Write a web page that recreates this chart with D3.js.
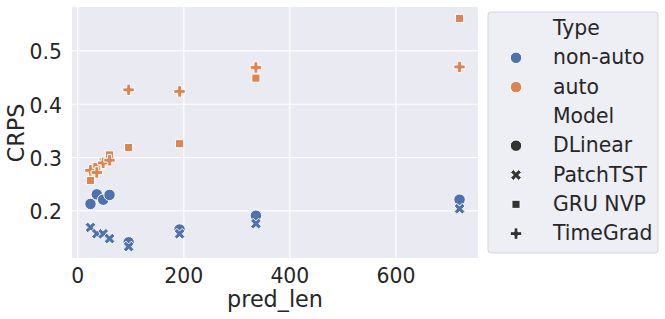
<!DOCTYPE html>
<html>
<head>
<meta charset="utf-8">
<script src="https://cdn.jsdelivr.net/npm/d3@7"></script>
<style>
  body { margin: 0; background: #fff; }
  text { font-family: 'DejaVu Sans', sans-serif; fill: #262626; }
</style>
</head>
<body>
<div id="chart"></div>
<script>
// data
const predLen = [24, 36, 48, 60, 96, 192, 336, 720]
const dlinear = [0.213, 0.231, 0.221, 0.230, 0.141, 0.165, 0.191, 0.221]
const patchtst = [0.169, 0.157, 0.157, 0.148, 0.133, 0.157, 0.176, 0.204]
const gruNvp = [0.257, 0.283, 0.292, 0.305, 0.319, 0.326, 0.449, 0.561]
const timeGrad = [0.276, 0.272, 0.290, 0.295, 0.427, 0.424, 0.469, 0.470]
const types = ['non-auto', 'auto']
const models = ['DLinear', 'PatchTST', 'GRU NVP', 'TimeGrad']
const modelType = ['non-auto', 'non-auto', 'auto', 'auto']
const xTicks = [0, 200, 400, 600]
const yTicks = [0.2, 0.3, 0.4, 0.5]

const series = [dlinear, patchtst, gruNvp, timeGrad]
const rows = []
series.forEach((vals, i) => {
  vals.forEach((v, j) => rows.push({ model: models[i], type: modelType[i], x: predLen[j], y: v }))
})

const W = 665, H = 319
const margin = { top: 7, left: 72, right: 187, bottom: 61 }
const width = W - margin.left - margin.right
const height = H - margin.top - margin.bottom

const svg = d3.select('#chart').append('svg')
  .attr('width', W).attr('height', H)

const g = svg.append('g')
  .attr('transform', 'translate(' + margin.left + ',' + margin.top + ')')

// seaborn-like 5% padding
const xExt = d3.extent(rows, d => d.x)
const yExt = d3.extent(rows, d => d.y)
const xPad = (xExt[1] - xExt[0]) * 0.05
const yPad = (yExt[1] - yExt[0]) * 0.05
const x = d3.scaleLinear().domain([xExt[0] - xPad, xExt[1] + xPad]).range([0, width])
const y = d3.scaleLinear().domain([yExt[0] - yPad, yExt[1] + yPad]).range([height, 0])

const color = d3.scaleOrdinal().domain(types).range(['#4c72b0', '#dd8452'])

g.append('rect').attr('width', width).attr('height', height).attr('fill', '#eaeaf2')

g.selectAll('.gx').data(xTicks).enter().append('line')
  .attr('x1', d => x(d)).attr('x2', d => x(d))
  .attr('y1', 0).attr('y2', height)
  .attr('stroke', '#fff').attr('stroke-width', 1.2)
g.selectAll('.gy').data(yTicks).enter().append('line')
  .attr('y1', d => y(d)).attr('y2', d => y(d))
  .attr('x1', 0).attr('x2', width)
  .attr('stroke', '#fff').attr('stroke-width', 1.2)

const tickFs = 20.4
g.selectAll('.tx').data(xTicks).enter().append('text')
  .attr('x', d => x(d)).attr('y', height + 25)
  .attr('text-anchor', 'middle').style('font-size', tickFs + 'px')
  .text(d => d)
g.selectAll('.ty').data(yTicks).enter().append('text')
  .attr('x', -10).attr('y', d => y(d) + 8.5)
  .attr('text-anchor', 'end').style('font-size', tickFs + 'px')
  .text(d => d3.format('.1f')(d))

g.append('text')
  .attr('x', width / 2).attr('y', height + 49)
  .attr('text-anchor', 'middle').style('font-size', '22.3px')
  .text('pred_len')
svg.append('text')
  .attr('transform', 'translate(23.5,133) rotate(-90)')
  .attr('text-anchor', 'middle').style('font-size', '22.3px')
  .text('CRPS')

// marker shapes (matplotlib-style: o, X, rotated square, P)
const plusPts = [[-1, -3], [1, -3], [1, -1], [3, -1], [3, 1], [1, 1], [1, 3], [-1, 3], [-1, 1], [-3, 1], [-3, -1], [-1, -1]]
function polyPath(pts, s, rot) {
  const c = Math.cos(rot), sn = Math.sin(rot)
  return 'M' + pts.map(p => {
    const px = p[0] * s, py = p[1] * s
    return [px * c - py * sn, px * sn + py * c].join(',')
  }).join('L') + 'Z'
}
const size = 11.5
function shape(model) {
  if (model === 'DLinear') return d3.symbol(d3.symbolCircle, Math.PI * (size / 2) ** 2)()
  if (model === 'PatchTST') return polyPath(plusPts, size / 6, Math.PI / 4)
  if (model === 'GRU NVP') return polyPath([[-1, -1], [1, -1], [1, 1], [-1, 1]], size * 0.354, 0)
  return polyPath(plusPts, size / 6, 0)
}

g.selectAll('.pt').data(rows).enter().append('path')
  .attr('class', 'pt')
  .attr('d', d => shape(d.model))
  .attr('transform', d => 'translate(' + x(d.x) + ',' + y(d.y) + ')')
  .attr('fill', d => color(d.type))
  .attr('stroke', '#fff').attr('stroke-width', 1)

// legend
const leg = svg.append('g').attr('transform', 'translate(488,12)')
leg.append('rect')
  .attr('width', 170).attr('height', 241).attr('rx', 3)
  .attr('fill', '#eeeef5').attr('stroke', '#d6d6d6').attr('stroke-width', 1)

const entries = [{ label: 'Type' }]
  .concat(types.map(t => ({ label: t, path: shape('DLinear'), fill: color(t) })))
  .concat([{ label: 'Model' }])
  .concat(models.map(m => ({ label: m, path: shape(m), fill: '#333333' })))

const item = leg.selectAll('.it').data(entries).enter().append('g')
  .attr('transform', (d, i) => 'translate(0,' + (23 + i * 29.3) + ')')
item.filter(d => d.path).append('path')
  .attr('d', d => d.path)
  .attr('transform', 'translate(28,-6.5)')
  .attr('fill', d => d.fill)
  .attr('stroke', '#fff').attr('stroke-width', 1)
item.append('text')
  .attr('x', 65).attr('y', 0)
  .style('font-size', tickFs + 'px')
  .text(d => d.label)
</script>
</body>
</html>
